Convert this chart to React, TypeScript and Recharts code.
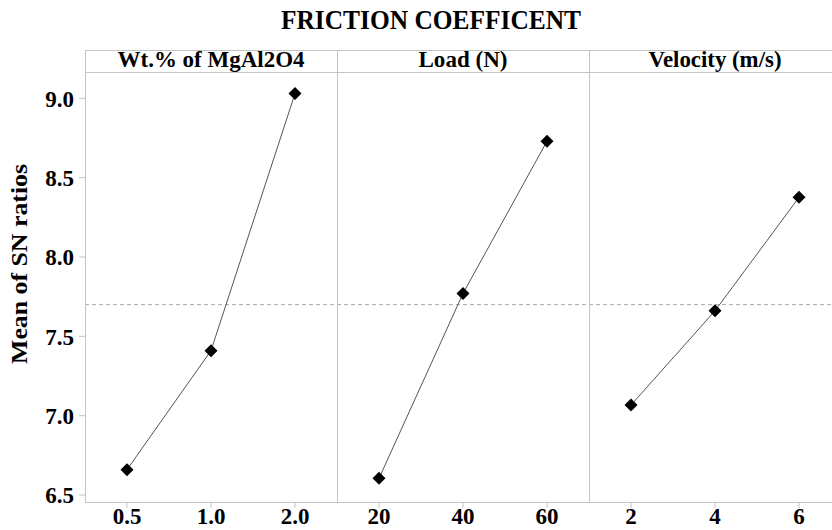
import React from "react";
import {
  LineChart,
  Line,
  XAxis,
  YAxis,
  ReferenceLine,
} from "recharts";

// Main effects of factor levels on mean SN ratio
const factorNames = ["Wt.% of MgAl2O4", "Load (N)", "Velocity (m/s)"];
const wtLevels = ["0.5", "1.0", "2.0"];
const wtMeans = [6.66, 7.41, 9.03];
const loadLevels = ["20", "40", "60"];
const loadMeans = [6.605, 7.77, 8.73];
const velLevels = ["2", "4", "6"];
const velMeans = [7.067, 7.661, 8.376];
const yTicks = [6.5, 7.0, 7.5, 8.0, 8.5, 9.0];
const grandMean = 7.7;

const FONT = "'Liberation Serif', 'Times New Roman', serif";
const FRAME = "#c4c4c4";
const PANEL_W = 252;
const PLOT_LEFT = 85;
const PLOT_TOP = 72;
const PLOT_BOTTOM = 502;
const HEADER_TOP = 50;
const Y_DOMAIN: [number, number] = [6.456, 9.166];
// header text widths measured on the reference
const headerWidths = [187, 89, 133];

const toRows = (levels: string[], means: number[]) =>
  levels.map((level, i) => ({ level, mean: means[i] }));

const panels = [
  { name: factorNames[0], data: toRows(wtLevels, wtMeans) },
  { name: factorNames[1], data: toRows(loadLevels, loadMeans) },
  { name: factorNames[2], data: toRows(velLevels, velMeans) },
];

// black diamond marker, like Minitab's
const Diamond = (props: any) => {
  const { cx, cy } = props;
  if (cx == null || cy == null) return null;
  const r = 6.5;
  return (
    <polygon
      points={`${cx},${cy - r} ${cx + r},${cy} ${cx},${cy + r} ${cx - r},${cy}`}
      fill="#000"
    />
  );
};

const tickStyle = { fill: "#000", fontSize: 23, fontWeight: 700, fontFamily: FONT };

const Panel: React.FC<{ index: number }> = ({ index }) => {
  const { data } = panels[index];
  const first = index === 0;
  const yW = first ? PLOT_LEFT : 0;
  return (
    <LineChart
      width={PANEL_W + yW}
      height={530}
      data={data}
      margin={{ top: PLOT_TOP, right: 0, bottom: 0, left: 0 }}
    >
      <XAxis
        dataKey="level"
        height={530 - PLOT_BOTTOM}
        padding={{ left: 42, right: 42 }}
        interval={0}
        tick={tickStyle}
        tickSize={6}
        tickMargin={0}
        axisLine={false}
        tickLine={{ stroke: FRAME }}
      />
      <YAxis
        domain={Y_DOMAIN}
        ticks={yTicks}
        width={yW}
        hide={!first}
        tick={tickStyle}
        tickFormatter={(v: number) => v.toFixed(1)}
        tickSize={6}
        tickMargin={5}
        axisLine={false}
        tickLine={{ stroke: FRAME }}
        allowDataOverflow
      />
      <ReferenceLine y={grandMean} stroke="#a8a8a8" strokeDasharray="4 3" />
      <Line
        type="linear"
        dataKey="mean"
        stroke="#555"
        strokeWidth={1}
        dot={<Diamond />}
        activeDot={false}
        isAnimationActive={false}
      />
    </LineChart>
  );
};

export default function App() {
  return (
    <div
      style={{
        position: "absolute",
        left: 0,
        top: 0,
        width: 832,
        height: 530,
        overflow: "hidden",
        background: "#fff",
      }}
    >
      {panels.map((p, i) => (
        <div
          key={p.name}
          style={{
            position: "absolute",
            left: i === 0 ? 0 : PLOT_LEFT + i * PANEL_W,
            top: 0,
          }}
        >
          <Panel index={i} />
        </div>
      ))}

      {/* frames, headers, title and y label */}
      <svg
        width={832}
        height={530}
        style={{ position: "absolute", left: 0, top: 0, pointerEvents: "none" }}
        fontFamily={FONT}
        fontWeight={700}
      >
        <rect
          x={PLOT_LEFT + 0.5}
          y={HEADER_TOP + 0.5}
          width={PANEL_W * 3}
          height={PLOT_BOTTOM - HEADER_TOP}
          fill="none"
          stroke={FRAME}
        />
        <line
          x1={PLOT_LEFT}
          x2={PLOT_LEFT + PANEL_W * 3}
          y1={PLOT_TOP + 0.5}
          y2={PLOT_TOP + 0.5}
          stroke={FRAME}
        />
        {[1, 2].map((k) => (
          <line
            key={k}
            x1={PLOT_LEFT + k * PANEL_W + 0.5}
            x2={PLOT_LEFT + k * PANEL_W + 0.5}
            y1={HEADER_TOP}
            y2={PLOT_BOTTOM}
            stroke={FRAME}
          />
        ))}
        {panels.map((p, i) => (
          <text
            key={p.name}
            x={PLOT_LEFT + i * PANEL_W + PANEL_W / 2}
            y={67}
            textAnchor="middle"
            fontSize={23}
            textLength={headerWidths[i]}
            lengthAdjust="spacingAndGlyphs"
            fill="#000"
          >
            {p.name}
          </text>
        ))}
        <text
          x={431}
          y={29}
          textAnchor="middle"
          fontSize={28}
          textLength={300}
          lengthAdjust="spacingAndGlyphs"
          fill="#000"
        >
          FRICTION COEFFICENT
        </text>
        <text
          transform="translate(27, 264) rotate(-90)"
          x={0}
          y={0}
          textAnchor="middle"
          fontSize={24}
          textLength={200}
          lengthAdjust="spacingAndGlyphs"
          fill="#000"
        >
          Mean of SN ratios
        </text>
      </svg>
    </div>
  );
}
